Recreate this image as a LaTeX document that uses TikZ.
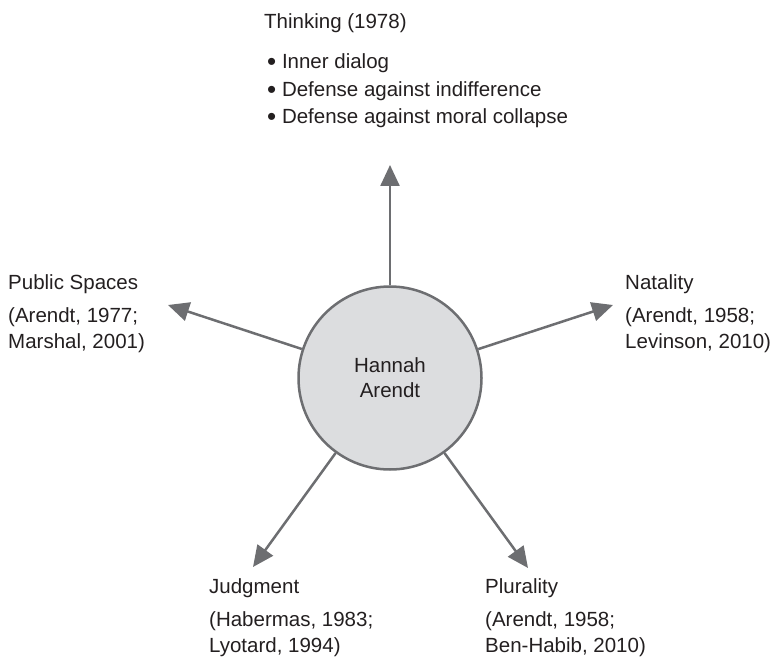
\documentclass[tikz,border=0pt]{standalone}
\usepackage{fontspec}
\setmainfont{Liberation Sans}
\usetikzlibrary{arrows.meta}
\definecolor{linegray}{HTML}{6D6E71}
\definecolor{fillgray}{HTML}{DCDDDF}
\definecolor{txt}{HTML}{231F20}
\newcommand{\bigbul}{\raisebox{-0.09em}{\fontsize{26}{26}\selectfont •}}
\begin{document}
\begin{tikzpicture}[x=1pt,y=-1pt,
  font=\fontsize{20.5}{26}\selectfont,
  lbl/.style={anchor=base west, inner sep=0pt, align=left, text=txt},
  arr/.style={draw=linegray, line width=2.5pt, -{Triangle[length=21pt,width=19pt]}, fill=linegray},
  hub/.style={circle, draw=linegray, fill=fillgray, line width=2.5pt, minimum size=183pt, inner sep=0pt, align=center, text=txt, font=\fontsize{20.5}{25}\selectfont}]
\useasboundingbox (0,0) rectangle (776,660);
\node[hub] (c) at (390,378) {Hannah\\Arendt};
% arrow tips
\coordinate (tT) at (390,165);
\coordinate (tL) at (168,305);
\coordinate (tR) at (613,305);
\coordinate (tBL) at (253,567);
\coordinate (tBR) at (528,568);
\draw[arr] (c) -- (tT);
\draw[arr] (c) -- (tL);
\draw[arr] (c) -- (tR);
\draw[arr] (c) -- (tBL);
\draw[arr] (c) -- (tBR);
% top
\node[lbl] (thk) at (264,29) {Thinking (1978)};
\node[lbl] (b1) at (267,69) {\bigbul\ Inner dialog};
\node[lbl] (b2) at (267,97) {\bigbul\ Defense against indifference};
\node[lbl] (b3) at (267,124) {\bigbul\ Defense against moral collapse};
% left (multi-line nodes: base = last line)
\node[lbl] (ps) at (8,289) {Public Spaces};
\node[lbl] (psc) at (8,348) {(Arendt, 1977;\\Marshal, 2001)};
% right
\node[lbl] (nat) at (625,289) {Natality};
\node[lbl] (natc) at (625,348) {(Arendt, 1958;\\Levinson, 2010)};
% bottom left
\node[lbl] (jud) at (209,593) {Judgment};
\node[lbl] (judc) at (209,652) {(Habermas, 1983;\\Lyotard, 1994)};
% bottom right
\node[lbl] (plu) at (485,593) {Plurality};
\node[lbl] (pluc) at (485,652) {(Arendt, 1958;\\Ben-Habib, 2010)};
\end{tikzpicture}
\end{document}
